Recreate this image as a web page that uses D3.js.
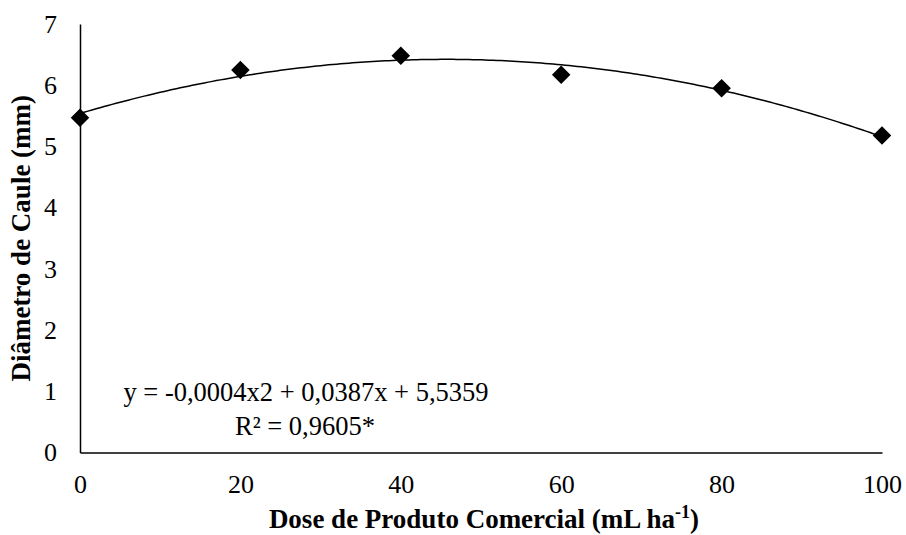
<!DOCTYPE html>
<html>
<head>
<meta charset="utf-8">
<script src="https://cdn.jsdelivr.net/npm/d3@7"></script>
<style>
  html, body { margin: 0; padding: 0; background: #fff; }
  svg { display: block; }
  text { font-family: "Liberation Serif", "Times New Roman", serif; fill: #000; }
</style>
</head>
<body>
<svg id="chart" width="906" height="535"></svg>
<script>
// Stem diameter by product dose
const doses = [0, 20, 40, 60, 80, 100];
const diameters = [5.47, 6.25, 6.48, 6.17, 5.95, 5.18];
const xTicks = [0, 20, 40, 60, 80, 100];
const yTicks = [0, 1, 2, 3, 4, 5, 6, 7];
const equationText = "y = -0,0004x2 + 0,0387x + 5,5359";
const r2Text = "R² = 0,9605*";

const svg = d3.select("#chart");
const margin = { left: 80, right: 24, top: 24, bottom: 82.5 };
const W = 906, H = 535;

const x = d3.scaleLinear().domain([0, 100]).range([margin.left, W - margin.right]);
const y = d3.scaleLinear().domain([0, 7]).range([H - margin.bottom, margin.top]);

// Least-squares quadratic fit y = c0 + c1 x + c2 x^2
function quadFit(xs, ys) {
  let s = [0, 0, 0, 0, 0], t = [0, 0, 0];
  xs.forEach((xi, i) => {
    for (let k = 0; k < 5; k++) s[k] += Math.pow(xi, k);
    for (let k = 0; k < 3; k++) t[k] += Math.pow(xi, k) * ys[i];
  });
  const A = [[s[0], s[1], s[2], t[0]], [s[1], s[2], s[3], t[1]], [s[2], s[3], s[4], t[2]]];
  for (let i = 0; i < 3; i++) {
    for (let j = i + 1; j < 3; j++) {
      const f = A[j][i] / A[i][i];
      for (let k = i; k < 4; k++) A[j][k] -= f * A[i][k];
    }
  }
  const c = [0, 0, 0];
  for (let i = 2; i >= 0; i--) {
    let v = A[i][3];
    for (let k = i + 1; k < 3; k++) v -= A[i][k] * c[k];
    c[i] = v / A[i][i];
  }
  return c;
}
const coef = quadFit(doses, diameters);
const trend = d3.range(0, 100.01, 0.5).map(d => [d, coef[0] + coef[1] * d + coef[2] * d * d]);

// Axes (lines only, no tick marks)
const xAxis = svg.append("g")
  .attr("transform", `translate(0,${y(0)})`)
  .call(d3.axisBottom(x).tickValues(xTicks).tickSize(0).tickPadding(22).tickFormat(d3.format("d")));
const yAxis = svg.append("g")
  .attr("transform", `translate(${x(0)},0)`)
  .call(d3.axisLeft(y).tickValues(yTicks).tickSize(0).tickPadding(23).tickFormat(d3.format("d")));
[xAxis, yAxis].forEach(g => {
  g.select(".domain").attr("stroke", "#000").attr("stroke-width", 1.5);
  g.selectAll("text").style("font-family", '"Liberation Serif", "Times New Roman", serif')
    .style("font-size", "26px").attr("fill", "#000");
});

// Trend curve
svg.append("path")
  .datum(trend)
  .attr("fill", "none")
  .attr("stroke", "#000")
  .attr("stroke-width", 1.5)
  .attr("d", d3.line().x(d => x(d[0])).y(d => y(d[1])));

// Data markers (diamonds)
svg.append("g").selectAll("path")
  .data(doses.map((d, i) => [d, diameters[i]]))
  .join("path")
  .attr("transform", d => `translate(${x(d[0])},${y(d[1])}) rotate(45)`)
  .attr("d", d3.symbol().type(d3.symbolSquare).size(172))
  .attr("fill", "#000");

// Equation and R²
svg.append("text")
  .attr("x", 306).attr("y", 401)
  .attr("text-anchor", "middle")
  .style("font-size", "26.5px")
  .text(equationText);
svg.append("text")
  .attr("x", 305).attr("y", 435)
  .attr("text-anchor", "middle")
  .style("font-size", "26.5px")
  .text(r2Text);

// Axis titles
const xt = svg.append("text")
  .attr("x", 484).attr("y", 528)
  .attr("text-anchor", "middle")
  .style("font-size", "27px").style("font-weight", "bold");
xt.append("tspan").text("Dose de Produto Comercial (mL ha");
xt.append("tspan").attr("dy", -10).style("font-size", "18px").text("-1");
xt.append("tspan").attr("dy", 10).text(")");

svg.append("text")
  .attr("transform", `translate(30,${(y(0) + y(7)) / 2}) rotate(-90)`)
  .attr("text-anchor", "middle")
  .style("font-size", "27px").style("font-weight", "bold")
  .text("Diâmetro de Caule (mm)");
</script>
</body>
</html>
